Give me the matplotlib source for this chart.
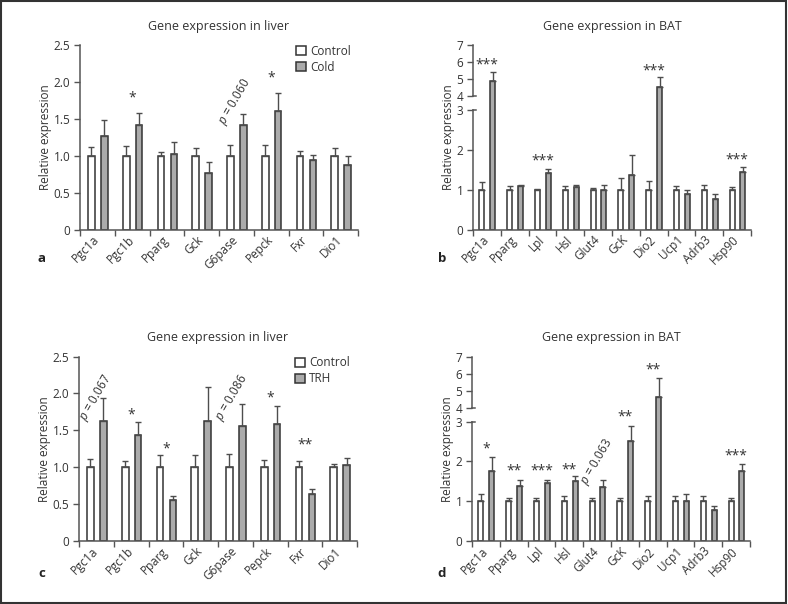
import numpy as np
import matplotlib
matplotlib.use("Agg")
import matplotlib.pyplot as plt
import matplotlib.transforms as mtransforms
from matplotlib.patches import Patch, Rectangle

plt.rcParams["font.family"] = ["Open Sans", "DejaVu Sans"]
plt.rcParams["mathtext.fontset"] = "custom"
plt.rcParams["mathtext.rm"] = "Open Sans"
plt.rcParams["mathtext.it"] = "Open Sans:italic"

# =========================
# Data
# =========================
liver_genes = ["Pgc1a", "Pgc1b", "Pparg", "Gck", "G6pase", "Pepck", "Fxr", "Dio1"]
bat_genes = ["Pgc1a", "Pparg", "Lpl", "Hsl", "Glut4", "GcK", "Dio2", "Ucp1", "Adrb3", "Hsp90"]

# a: liver, control vs cold
ctrl_a = [1.0, 1.0, 1.0, 1.0, 1.0, 1.0, 1.0, 1.0]
ctrl_a_err = [0.12, 0.13, 0.05, 0.11, 0.15, 0.14, 0.06, 0.11]
cold_a = [1.27, 1.41, 1.02, 0.77, 1.41, 1.60, 0.94, 0.88]
cold_a_err = [0.22, 0.17, 0.17, 0.14, 0.15, 0.25, 0.07, 0.11]
stars_a = [(1, 1.78, "*"), (5, 2.05, "*")]
pvals_a = [(3.97, 1.73, "0.060")]

# b: BAT, control vs cold
ctrl_b = [1.0, 1.0, 1.0, 1.0, 1.0, 1.0, 1.0, 1.0, 1.0, 1.0]
ctrl_b_err = [0.20, 0.09, 0.03, 0.09, 0.05, 0.29, 0.21, 0.10, 0.12, 0.06]
cold_b = [4.89, 1.09, 1.43, 1.07, 1.00, 1.36, 4.52, 0.90, 0.77, 1.44]
cold_b_err = [0.52, 0.04, 0.08, 0.06, 0.11, 0.51, 0.58, 0.10, 0.12, 0.12]
stars_b = [(0, 5.83, "***"), (2, 1.73, "***"), (6, 5.5, "***"), (9, 1.75, "***")]
pvals_b = []

# c: liver, control vs TRH
ctrl_c = [1.0, 1.0, 1.0, 1.0, 1.0, 1.0, 1.0, 1.0]
ctrl_c_err = [0.11, 0.08, 0.16, 0.17, 0.18, 0.10, 0.09, 0.04]
trh_c = [1.63, 1.44, 0.55, 1.63, 1.56, 1.59, 0.64, 1.03]
trh_c_err = [0.31, 0.17, 0.06, 0.45, 0.29, 0.24, 0.07, 0.09]
stars_c = [(1, 1.71, "*"), (2, 1.25, "*"), (5, 1.94, "*"), (6, 1.30, "**")]
pvals_c = [(0.0, 1.94, "0.067"), (3.9, 1.94, "0.086")]

# d: BAT, control vs TRH
ctrl_d = [1.0, 1.0, 1.0, 1.0, 1.0, 1.0, 1.0, 1.0, 1.0, 1.0]
ctrl_d_err = [0.17, 0.09, 0.09, 0.12, 0.07, 0.09, 0.14, 0.14, 0.12, 0.07]
trh_d = [1.77, 1.39, 1.46, 1.51, 1.35, 2.51, 4.66, 1.00, 0.78, 1.76]
trh_d_err = [0.34, 0.15, 0.08, 0.12, 0.19, 0.39, 1.10, 0.18, 0.11, 0.18]
stars_d = [(0, 2.32, "*"), (1, 1.75, "**"), (2, 1.75, "***"), (3, 1.79, "**"),
           (5, 3.35, "**"), (6, 6.2, "**"), (9, 2.13, "***")]
pvals_d = [(4.0, 2.0, "0.063")]

liver_yticks = [0, 0.5, 1.0, 1.5, 2.0, 2.5]
liver_ylabels = ["0", "0.5", "1.0", "1.5", "2.0", "2.5"]
bat_yticks = [0, 1, 2, 3, 4, 5, 6, 7]
bat_ylabels = ["0", "1", "2", "3", "4", "5", "6", "7"]

# =========================
# Style
# =========================
TXT = "#333333"
AX = "#555555"
EDGE = "#333333"
GREY = "#ababab"
ERR = "#4d4d4d"

# broken y axis for BAT: 0-3 linear, 3-4 squeezed gap, 4-7 compressed
GAP = 0.35
TOP = 0.43


def bat_fwd(y):
    y = np.asarray(y, dtype=float)
    return np.where(y <= 3, y, np.where(y <= 4, 3 + (y - 3) * GAP, 3 + GAP + (y - 4) * TOP))


def bat_inv(z):
    z = np.asarray(z, dtype=float)
    return np.where(z <= 3, z, np.where(z <= 3 + GAP, 3 + (z - 3) / GAP, 4 + (z - 3 - GAP) / TOP))


def panel(ax, genes, ctrl, ctrl_err, trt, trt_err, stars, pvals, title, bat):
    n = len(genes)
    x = np.arange(n)
    if bat:
        off_c, off_t, w = -0.18, 0.21, 0.18
    else:
        off_c, off_t, w = -0.17, 0.20, 0.19
    ax.bar(x + off_c, ctrl, width=w, color="white", edgecolor=EDGE, linewidth=1.1, zorder=2)
    ax.bar(x + off_t, trt, width=w, color=GREY, edgecolor=EDGE, linewidth=1.1, zorder=2)
    ax.errorbar(x + off_c, ctrl, yerr=[np.zeros(n), ctrl_err], fmt="none", ecolor=ERR,
                elinewidth=1.0, capsize=2, capthick=1.0, zorder=3)
    ax.errorbar(x + off_t, trt, yerr=[np.zeros(n), trt_err], fmt="none", ecolor=ERR,
                elinewidth=1.0, capsize=2, capthick=1.0, zorder=3)

    for i, y, s in stars:
        ax.text(i, y, s, ha="center", va="center", fontsize=10, color=TXT)
    for xp, y, s in pvals:
        ax.text(xp, y, r"$\it{p}$ = " + s, ha="center", va="center", rotation=60,
                fontsize=8.5, color=TXT)

    ax.set_xlim(-0.5, n - 0.5)
    ax.set_xticks(np.arange(n + 1) - 0.5)
    ax.set_xticklabels([])
    ax.set_xticks(x, minor=True)
    ax.set_xticklabels(genes, minor=True, rotation=45, ha="right", va="center",
                       rotation_mode="anchor", fontsize=8.5, color=TXT)
    ax.tick_params(axis="x", which="major", length=4, width=1.0, color=AX)
    ax.tick_params(axis="x", which="minor", length=0, pad=6)

    if bat:
        ax.set_yscale("function", functions=(bat_fwd, bat_inv))
        ax.set_ylim(0, 7)
        ax.set_yticks(bat_yticks)
        ax.set_yticklabels(bat_ylabels)
        ax.spines["left"].set_visible(False)
        tr = mtransforms.blended_transform_factory(ax.transAxes, ax.transData)
        ax.plot([0, 0], [0, 3], color=AX, lw=1.1, transform=tr, clip_on=False)
        ax.plot([0, 0], [4, 7], color=AX, lw=1.1, transform=tr, clip_on=False)
        for yb in (3, 4):
            ax.plot([0, 0.012], [yb, yb], color=AX, lw=1.1, transform=tr, clip_on=False)
    else:
        ax.set_ylim(0, 2.5)
        ax.set_yticks(liver_yticks)
        ax.set_yticklabels(liver_ylabels)
    ax.tick_params(axis="y", length=4, width=1.0, color=AX, labelsize=8.5, labelcolor=TXT, pad=3)

    ax.spines["top"].set_visible(False)
    ax.spines["right"].set_visible(False)
    for sp in ("left", "bottom"):
        ax.spines[sp].set_color(AX)
        ax.spines[sp].set_linewidth(1.1)
    ax.set_ylabel("Relative expression", fontsize=8.5, color=TXT, labelpad=1)
    ax.set_title(title, fontsize=9, color=TXT, pad=11)


fig = plt.figure(figsize=(7.88, 6.04), dpi=100)
W, H = 788.0, 604.0

ax_a = fig.add_axes([80 / W, 1 - 229.5 / H, 278 / W, 184.5 / H])
ax_b = fig.add_axes([473 / W, 1 - 229.5 / H, 278 / W, 184.5 / H])
ax_c = fig.add_axes([79 / W, 1 - 541 / H, 278 / W, 184.5 / H])
ax_d = fig.add_axes([472 / W, 1 - 541 / H, 278 / W, 184.5 / H])

panel(ax_a, liver_genes, ctrl_a, ctrl_a_err, cold_a, cold_a_err, stars_a, pvals_a,
      "Gene expression in liver", False)
panel(ax_b, bat_genes, ctrl_b, ctrl_b_err, cold_b, cold_b_err, stars_b, pvals_b,
      "Gene expression in BAT", True)
panel(ax_c, liver_genes, ctrl_c, ctrl_c_err, trh_c, trh_c_err, stars_c, pvals_c,
      "Gene expression in liver", False)
panel(ax_d, bat_genes, ctrl_d, ctrl_d_err, trh_d, trh_d_err, stars_d, pvals_d,
      "Gene expression in BAT", True)

for ax, treat in ((ax_a, "Cold"), (ax_c, "TRH")):
    handles = [Patch(facecolor="white", edgecolor=EDGE, linewidth=1.1, label="Control"),
               Patch(facecolor=GREY, edgecolor=EDGE, linewidth=1.1, label=treat)]
    ax.legend(handles=handles, loc="upper right", bbox_to_anchor=(0.975, 1.0),
              frameon=False, fontsize=8.5, handlelength=0.8, handleheight=0.8,
              handletextpad=0.4, borderpad=0, borderaxespad=0, labelspacing=0.25,
              labelcolor=TXT)

for lab, px, py in (("a", 41.7, 258.3), ("b", 442.3, 258.3), ("c", 41.7, 573.7), ("d", 441.7, 573.7)):
    fig.text(px / W, 1 - py / H, lab, ha="center", va="center", fontsize=9.5,
             fontweight="bold", color="#222222")

fig.add_artist(Rectangle((0.001, 0.002), 0.9965, 0.9965, transform=fig.transFigure,
                         fill=False, edgecolor="#333333", linewidth=1.5))

fig.savefig("out.png", dpi=100)
